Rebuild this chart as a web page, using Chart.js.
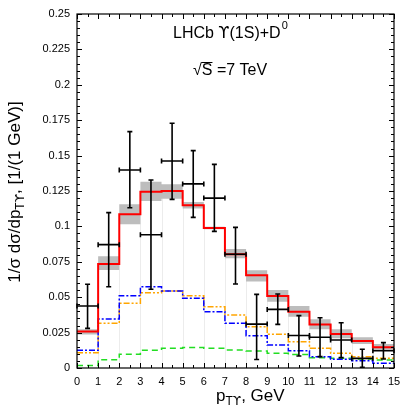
<!DOCTYPE html>
<html>
<head>
<meta charset="utf-8">
<script src="https://cdn.jsdelivr.net/npm/chart.js@4.4.0/dist/chart.umd.min.js"></script>
<style>
  html, body { margin: 0; padding: 0; background: #fff; }
  #wrap { width: 415px; height: 415px; }
</style>
</head>
<body>
<div id="wrap"><canvas id="myCanvas" width="415" height="415"></canvas></div>
<script>
// bin edges (GeV) and per-bin values
var binEdges = [0, 1, 2, 3, 4, 5, 6, 7, 8, 9, 10, 11, 12, 13, 14, 15];
var totalTheory = [0.0257, 0.0735, 0.1085, 0.1245, 0.125, 0.1149, 0.0989, 0.0803, 0.0655, 0.0508, 0.0398, 0.0308, 0.024, 0.0191, 0.0146];
var bandLow = [0.0237, 0.0692, 0.1016, 0.1179, 0.1196, 0.1126, 0.0980, 0.0775, 0.0610, 0.0468, 0.0362, 0.0273, 0.0210, 0.0170, 0.0122];
var bandHigh = [0.0273, 0.0790, 0.1157, 0.1316, 0.1297, 0.1173, 0.0998, 0.0840, 0.0690, 0.0550, 0.0438, 0.0344, 0.0273, 0.0217, 0.0170];
var blueCurve = [0.0125, 0.0346, 0.0511, 0.0574, 0.0544, 0.0492, 0.0398, 0.0316, 0.0228, 0.0162, 0.0122, 0.0080, 0.0061, 0.0052, 0.0033];
var orangeCurve = [0.0108, 0.0316, 0.0457, 0.0532, 0.0544, 0.0511, 0.0433, 0.0374, 0.0292, 0.0238, 0.0186, 0.0139, 0.0104, 0.0080, 0.0068];
var greenCurve = [0.0018, 0.0059, 0.0097, 0.0125, 0.0139, 0.0144, 0.0139, 0.0127, 0.0120, 0.0104, 0.0095, 0.0073, 0.0068, 0.0064, 0.0056];

// LHCb data points
var dataX = [0.5, 1.5, 2.5, 3.5, 4.5, 5.5, 6.5, 7.5, 8.5, 9.5, 10.5, 11.5, 12.5, 13.5, 14.5];
var dataY = [0.0438, 0.0871, 0.1398, 0.0941, 0.1462, 0.1300, 0.1200, 0.0803, 0.0310, 0.0414, 0.0230, 0.0217, 0.0198, 0.0068, 0.0122];
var dataHi = [0.0591, 0.1097, 0.1669, 0.1328, 0.1728, 0.1535, 0.1438, 0.0993, 0.0520, 0.0523, 0.0370, 0.0355, 0.0320, 0.0132, 0.0179];
var dataLo = [0.0280, 0.0574, 0.1132, 0.0556, 0.1191, 0.1064, 0.0965, 0.0593, 0.0060, 0.0308, 0.0085, 0.0080, 0.0073, 0.0005, 0.0064];
var binHalf = 0.5;

var yTicks = [0, 0.025, 0.05, 0.075, 0.1, 0.125, 0.15, 0.175, 0.2, 0.225, 0.25];
var xTicks = [0, 1, 2, 3, 4, 5, 6, 7, 8, 9, 10, 11, 12, 13, 14, 15];

var FONT = "'Liberation Sans', Arial, Helvetica, sans-serif";
var UPS = "'DejaVu Sans', sans-serif";

function stepData(vals) {
    var pts = [];
    for (var i = 0; i < binEdges.length; i++) {
        pts.push({ x: binEdges[i], y: vals[Math.min(i, vals.length - 1)] });
    }
    return pts;
}

// draws a row of text pieces: [text, font, dy]
function textRow(ctx, parts, x, y, measureOnly) {
    var w = 0;
    parts.forEach(function (p) {
        ctx.font = p[1];
        if (!measureOnly) ctx.fillText(p[0], x + w, y + (p[2] || 0));
        w += ctx.measureText(p[0]).width;
    });
    return w;
}

// frame, inner ticks, faint bin lines, error bars, texts
var decorations = {
    id: 'decorations',
    beforeDatasetsDraw(chart) {
        var ctx = chart.ctx, xs = chart.scales.x, ys = chart.scales.y;
        ctx.save();
        ctx.strokeStyle = '#ececec';
        ctx.lineWidth = 1;
        for (var i = 1; i < totalTheory.length; i++) {
            var top = Math.max(totalTheory[i - 1], totalTheory[i]);
            var px = Math.round(xs.getPixelForValue(binEdges[i])) + 0.5;
            ctx.beginPath();
            ctx.moveTo(px, ys.getPixelForValue(0));
            ctx.lineTo(px, ys.getPixelForValue(top));
            ctx.stroke();
        }
        ctx.restore();
    },
    afterDatasetsDraw(chart) {
        var ctx = chart.ctx, xs = chart.scales.x, ys = chart.scales.y;
        ctx.save();
        ctx.strokeStyle = '#000';
        ctx.lineWidth = 1.6;
        for (var i = 0; i < dataX.length; i++) {
            var cx = xs.getPixelForValue(dataX[i]);
            var cy = ys.getPixelForValue(dataY[i]);
            var x1 = xs.getPixelForValue(dataX[i] - binHalf);
            var x2 = xs.getPixelForValue(dataX[i] + binHalf);
            var yl = ys.getPixelForValue(dataLo[i]);
            var yh = ys.getPixelForValue(dataHi[i]);
            ctx.beginPath();
            ctx.moveTo(x1, cy); ctx.lineTo(x2, cy);
            ctx.moveTo(x1, cy - 2.5); ctx.lineTo(x1, cy + 2.5);
            ctx.moveTo(x2, cy - 2.5); ctx.lineTo(x2, cy + 2.5);
            ctx.moveTo(cx, yl); ctx.lineTo(cx, yh);
            ctx.moveTo(cx - 2.5, yl); ctx.lineTo(cx + 2.5, yl);
            ctx.moveTo(cx - 2.5, yh); ctx.lineTo(cx + 2.5, yh);
            ctx.stroke();
        }
        ctx.restore();
    },
    afterDraw(chart) {
        var ctx = chart.ctx, a = chart.chartArea, xs = chart.scales.x, ys = chart.scales.y;
        ctx.save();
        ctx.strokeStyle = '#000';
        ctx.lineWidth = 1.2;
        ctx.strokeRect(a.left, a.top, a.right - a.left, a.bottom - a.top);
        ctx.lineWidth = 1;
        ctx.beginPath();
        // x ticks, major at integers, minor at halves
        for (var v = 0; v <= 15.001; v += 0.5) {
            var px = Math.round(xs.getPixelForValue(v)) + 0.5;
            var len = (Math.abs(v - Math.round(v)) < 0.01) ? 5 : 3;
            ctx.moveTo(px, a.bottom); ctx.lineTo(px, a.bottom - len);
            ctx.moveTo(px, a.top); ctx.lineTo(px, a.top + len);
        }
        // y ticks, major every 0.025, minor every 0.005
        for (var k = 0; k <= 50; k++) {
            var py = Math.round(ys.getPixelForValue(k * 0.005)) + 0.5;
            var l2 = (k % 5 === 0) ? 5 : 3;
            ctx.moveTo(a.left, py); ctx.lineTo(a.left + l2, py);
            ctx.moveTo(a.right, py); ctx.lineTo(a.right - l2, py);
        }
        ctx.stroke();

        ctx.fillStyle = '#000';
        ctx.textBaseline = 'alphabetic';
        // title lines
        var f16 = '16px ' + FONT;
        var w1 = textRow(ctx, [['LHCb ', f16], ['\u03D2', '16px ' + UPS], ['(1S)+D', f16]], 173, 38);
        ctx.font = '11px ' + FONT;
        ctx.fillText('0', 173 + w1 + 1, 29);

        ctx.font = f16;
        var sx = 193;
        ctx.fillText('\u221A', sx, 75);
        var wr = ctx.measureText('\u221A').width;
        ctx.fillText('S', sx + wr, 75);
        var ws = ctx.measureText('S').width;
        ctx.lineWidth = 1;
        ctx.beginPath();
        ctx.moveTo(sx + wr - 0.5, 62.5); ctx.lineTo(sx + wr + ws, 62.5);
        ctx.stroke();
        ctx.fillText(' =7 TeV', sx + wr + ws, 75);

        // x axis title
        var f17 = '17px ' + FONT, f12 = '12px ' + FONT;
        textRow(ctx, [['p', f17], ['T', f12, 4], ['\u03D2', '12px ' + UPS, 4], [', GeV', f17]], 216, 401);

        // y axis title (rotated)
        ctx.save();
        ctx.translate(20, 192);
        ctx.rotate(-Math.PI / 2);
        var yParts = [['1/\u03C3 d\u03C3/dp', f17], ['T', f12, 4], ['\u03D2', '12px ' + UPS, 4], [', [1/(1 GeV)]', f17]];
        var wy = textRow(ctx, yParts, 0, 0, true);
        textRow(ctx, yParts, -wy / 2, 0);
        ctx.restore();

        ctx.restore();
    }
};

var ctx = document.getElementById('myCanvas').getContext('2d');
var myChart = new Chart(ctx, {
    type: 'line',
    data: {
        datasets: [{
            label: 'LHCb',
            type: 'scatter',
            data: dataX.map(function (x, i) { return { x: x, y: dataY[i] }; }),
            pointRadius: 0,
            showLine: false
        },
        {
            label: 'total',
            data: stepData(totalTheory),
            borderColor: '#ff0000',
            borderWidth: 2,
            pointRadius: 0,
            stepped: 'before',
            fill: false
        },
        {
            label: 'blue',
            data: stepData(blueCurve),
            borderColor: '#0000ff',
            borderWidth: 1.5,
            borderDash: [6, 2, 2, 2],
            pointRadius: 0,
            stepped: 'before',
            fill: false
        },
        {
            label: 'orange',
            data: stepData(orangeCurve),
            borderColor: '#ffa500',
            borderWidth: 1.5,
            borderDash: [6, 2, 2, 2, 2, 2],
            pointRadius: 0,
            stepped: 'before',
            fill: false
        },
        {
            label: 'green',
            data: stepData(greenCurve),
            borderColor: '#22dd22',
            borderWidth: 1.5,
            borderDash: [6, 4],
            pointRadius: 0,
            stepped: 'before',
            fill: false
        },
        {
            label: 'band high',
            data: stepData(bandHigh),
            borderWidth: 0,
            borderColor: 'rgba(0,0,0,0)',
            backgroundColor: '#bdbdbd',
            pointRadius: 0,
            stepped: 'before',
            fill: '+1'
        },
        {
            label: 'band low',
            data: stepData(bandLow),
            borderWidth: 0,
            borderColor: 'rgba(0,0,0,0)',
            pointRadius: 0,
            stepped: 'before',
            fill: false
        }]
    },
    options: {
        responsive: false,
        animation: false,
        layout: { padding: { left: 0, top: 14, right: 21, bottom: 0 } },
        plugins: {
            legend: { display: false },
            tooltip: { enabled: false },
            title: { display: false }
        },
        scales: {
            x: {
                type: 'linear',
                min: 0,
                max: 15,
                afterBuildTicks: function (scale) {
                    scale.ticks = xTicks.map(function (v) { return { value: v }; });
                },
                grid: { display: false, drawTicks: false },
                border: { display: false },
                ticks: {
                    color: '#000',
                    padding: 7,
                    maxRotation: 0,
                    autoSkip: false,
                    font: { family: FONT, size: 11 },
                    callback: function (v) { return String(v); }
                },
                afterFit: function (scale) { scale.height = 47; }
            },
            y: {
                type: 'linear',
                min: 0,
                max: 0.25,
                afterBuildTicks: function (scale) {
                    scale.ticks = yTicks.map(function (v) { return { value: v }; });
                },
                grid: { display: false, drawTicks: false },
                border: { display: false },
                ticks: {
                    color: '#000',
                    padding: 7,
                    autoSkip: false,
                    font: { family: FONT, size: 11 },
                    callback: function (v) { return String(+v.toFixed(3)); }
                },
                afterFit: function (scale) { scale.width = 77; }
            }
        }
    },
    plugins: [decorations]
});
</script>
</body>
</html>
